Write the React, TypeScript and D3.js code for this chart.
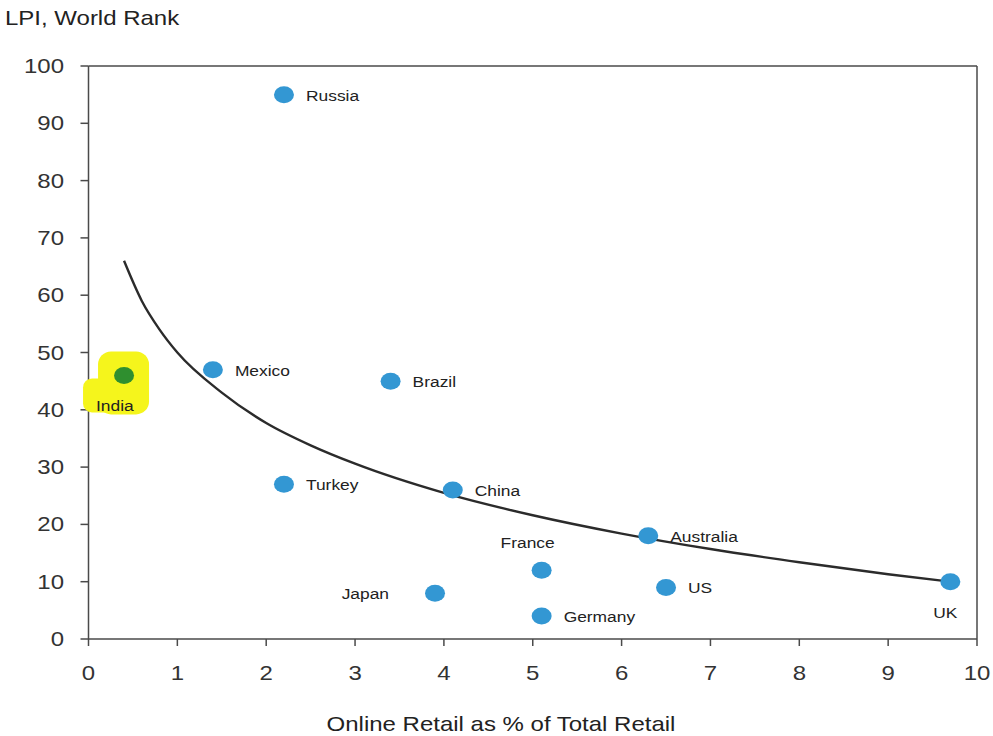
import React from "react";
import * as d3 from "d3";

const countries = ["Russia", "Mexico", "India", "Brazil", "Turkey", "China", "Australia", "France", "US", "Japan", "Germany", "UK"];
const onlineShare = [2.2, 1.4, 0.4, 3.4, 2.2, 4.1, 6.3, 5.1, 6.5, 3.9, 5.1, 9.7];
const lpiRank = [95, 47, 46, 45, 27, 26, 18, 12, 9, 8, 4, 10];
// label placement: r = right, l = left, a = above, b = below, bl = below-left
const labelPos = ["r", "r", "bl", "r", "r", "r", "r", "a", "r", "l", "r", "b"];

const trendX = [0.4, 0.6, 0.8, 1, 1.5, 2, 2.5, 3, 4, 5, 6, 7, 8, 9, 9.7];
const trendY = [66, 59, 54, 50, 43, 37.7, 33.8, 30.6, 25.5, 21.6, 18.4, 15.7, 13.4, 11.3, 10];

const xTicks = [0, 1, 2, 3, 4, 5, 6, 7, 8, 9, 10];
const yTicks = [0, 10, 20, 30, 40, 50, 60, 70, 80, 90, 100];

const W = 993, H = 736;
const M = { left: 88.5, right: 977, top: 66, bottom: 639 };
const FONT = "'Liberation Sans', Arial, sans-serif";
const SX = 1.2;

function T({ x, y, size, anchor = "start", children, fill = "#222", base = "auto" }: any) {
  return (
    <g transform={`translate(${x},${y}) scale(${SX},1)`}>
      <text fontFamily={FONT} fontSize={size} textAnchor={anchor} fill={fill} dominantBaseline={base}>{children}</text>
    </g>
  );
}

export default function App() {
  const x = d3.scaleLinear().domain([0, 10]).range([M.left, M.right]);
  const y = d3.scaleLinear().domain([0, 100]).range([M.bottom, M.top]);
  const line = d3.line<number>().x((_, i) => x(trendX[i])).y((d) => y(d)).curve(d3.curveMonotoneX);
  const axisColor = "#4a4a4a";
  const india = countries.indexOf("India");
  const icx = x(onlineShare[india]), icy = y(lpiRank[india]);

  return (
    <svg width={W} height={H} style={{ position: "absolute", left: 0, top: 0, background: "#fff" }}>
      <rect width={W} height={H} fill="#fff" />
      <T x={5} y={25} size={20}>LPI, World Rank</T>
      {/* plot frame */}
      <line x1={M.left} x2={M.right} y1={M.top} y2={M.top} stroke={axisColor} strokeWidth={1.5} />
      <line x1={M.right} x2={M.right} y1={M.top} y2={M.bottom} stroke={axisColor} strokeWidth={1.5} />
      <line x1={M.left} x2={M.left} y1={M.top} y2={M.bottom} stroke={axisColor} strokeWidth={1.5} />
      <line x1={M.left} x2={M.right} y1={M.bottom} y2={M.bottom} stroke={axisColor} strokeWidth={1.5} />
      {yTicks.map((t) => (
        <g key={"y" + t}>
          <line x1={M.left - 8} x2={M.left} y1={y(t)} y2={y(t)} stroke={axisColor} strokeWidth={1.5} />
          <T x={64} y={y(t) + 7} size={20} anchor="end" fill="#333">{t}</T>
        </g>
      ))}
      {xTicks.map((t) => (
        <g key={"x" + t}>
          <line x1={x(t)} x2={x(t)} y1={M.bottom} y2={M.bottom + 7} stroke={axisColor} strokeWidth={1.5} />
          <T x={x(t)} y={680} size={20} anchor="middle" fill="#333">{t}</T>
        </g>
      ))}
      <T x={501} y={731} size={20} anchor="middle" fill="#222">Online Retail as % of Total Retail</T>

      {/* India highlight */}
      <rect x={icx - 26} y={icy - 24} width={51} height={63} rx={13} fill="#f5f51c" />
      <rect x={icx - 41} y={icy + 3} width={34} height={34} rx={9} fill="#f5f51c" />

      <path d={line(trendY) || ""} fill="none" stroke="#2b2b2b" strokeWidth={2.4} />

      {countries.map((c, i) => {
        const cx = x(onlineShare[i]), cy = y(lpiRank[i]);
        const p = labelPos[i];
        let lx = cx + 22, ly = cy + 6, anchor = "start";
        if (p === "l") { lx = cx - 46; ly = cy + 6; anchor = "end"; }
        if (p === "a") { lx = cx - 14; ly = cy - 22; anchor = "middle"; }
        if (p === "b") { lx = cx - 5; ly = cy + 36; anchor = "middle"; }
        if (p === "bl") { lx = cx - 28; ly = cy + 36; anchor = "start"; }
        return (
          <g key={c}>
            <ellipse cx={cx} cy={cy} rx={10} ry={8.5} fill={c === "India" ? "#2f8f2f" : "#3397d3"} />
            <T x={lx} y={ly} size={14.5} anchor={anchor} fill="#222">{c}</T>
          </g>
        );
      })}
    </svg>
  );
}
